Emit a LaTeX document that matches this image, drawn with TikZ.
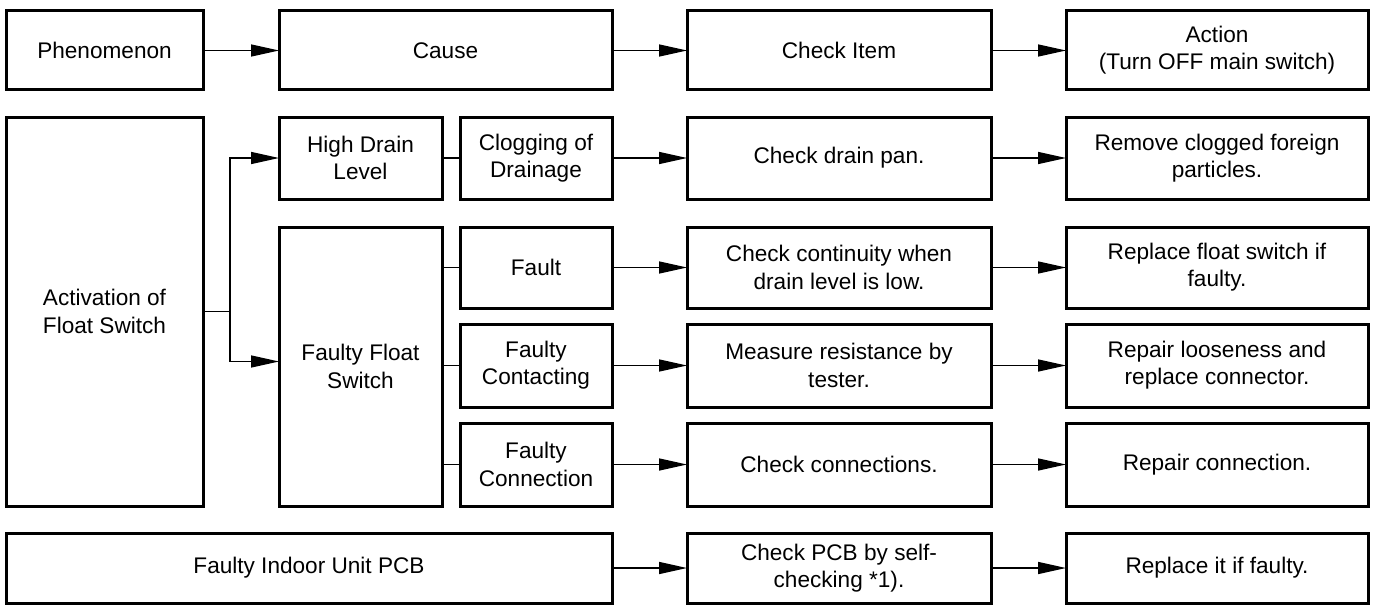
\documentclass[tikz,border=0pt]{standalone}
\usepackage{fontspec}
\setmainfont{Liberation Sans}
\usepackage{tikz}
\usetikzlibrary{arrows.meta, positioning, calc}

\begin{document}
\begin{tikzpicture}[
    node distance=13.5pt and 37.5pt,
    every node/.style={font=\fontsize{11.3}{13.6}\selectfont, align=center},
    blk/.style={draw=black, line width=1.5pt, outer sep=0pt, inner sep=2pt},
    colA/.style={blk, minimum width=98.5pt},
    colB/.style={blk, minimum width=81.5pt},
    colC/.style={blk, minimum width=76pt},
    colD/.style={blk, minimum width=152pt},
    colE/.style={blk, minimum width=151pt},
    arr/.style={-{Triangle[length=14pt, width=6pt]}, line width=0.75pt},
    lnk/.style={line width=0.6pt}
]
\useasboundingbox (0,0) rectangle (687pt,-305pt);

% Header row
\node[colA, minimum height=39.5pt, anchor=north west] (phen) at (3pt,-5.5pt) {Phenomenon};
\node[blk, minimum width=166.5pt, minimum height=39.5pt, right=38pt of phen] (cause) {Cause};
\node[colD, minimum height=39.5pt, right=of cause] (check) {Check Item};
\node[colE, minimum height=39.5pt, right=of check] (action) {Action\\(Turn OFF main switch)};

% Float switch block
\node[colA, minimum height=194.5pt, below=of phen.south west, anchor=north west] (act) {Activation of\\Float Switch};
\node[colB, minimum height=41pt, below=of cause.south west, anchor=north west] (hdl) {High Drain\\Level};
\node[colC, minimum height=41pt, right=9pt of hdl] (clog) {Clogging of\\Drainage};
\node[colD, minimum height=41pt, below=of check] (chk_pan) {Check drain pan.};
\node[colE, minimum height=41pt, below=of action] (act_clog) {Remove clogged foreign\\particles.};

\node[colB, minimum height=139.5pt, below=14pt of hdl.south west, anchor=north west] (ffs) {Faulty Float\\Switch};
\node[colC, minimum height=40.5pt, below=14pt of clog] (fault) {Fault};
\node[colC, minimum height=41.5pt, below=8pt of fault] (cont) {Faulty\\Contacting};
\node[colC, minimum height=41.5pt, below=8pt of cont] (conn) {Faulty\\Connection};

\node[colD, minimum height=40.5pt, below=14pt of chk_pan] (chk_cont) {Check continuity when\\drain level is low.};
\node[colD, minimum height=41.5pt, below=8pt of chk_cont] (chk_res) {Measure resistance by\\tester.};
\node[colD, minimum height=41.5pt, below=8pt of chk_res] (chk_conn) {Check connections.};

\node[colE, minimum height=40.5pt, below=14pt of act_clog] (act_fs) {Replace float switch if\\faulty.};
\node[colE, minimum height=41.5pt, below=8pt of act_fs] (act_loose) {Repair looseness and\\replace connector.};
\node[colE, minimum height=41.5pt, below=8pt of act_loose] (act_conn) {Repair connection.};

% PCB row
\node[blk, minimum width=303pt, minimum height=35pt, below=of act.south west, anchor=north west] (pcb) {Faulty Indoor Unit PCB};
\node[colD, minimum height=35pt, below=of chk_conn] (chk_pcb) {Check PCB by self-\\checking *1).};
\node[colE, minimum height=35pt, below=of act_conn] (act_pcb) {Replace it if faulty.};

% Connectors
\draw[arr] (phen) -- (cause);
\draw[arr] (cause) -- (check);
\draw[arr] (check) -- (action);

\draw[lnk] (act.east) -- ++(13.5pt,0) coordinate (split);
\draw[arr] (split) |- (hdl.west);
\draw[arr] (split) |- ([yshift=2.5pt]ffs.west);

\draw[lnk] (hdl) -- (clog);
\foreach \n in {fault, cont, conn}
    \draw[lnk] (ffs.east |- \n.west) -- (\n.west);

\draw[arr] (clog) -- (chk_pan);
\draw[arr] (fault) -- (chk_cont);
\draw[arr] (cont) -- (chk_res);
\draw[arr] (conn) -- (chk_conn);
\draw[arr] (pcb) -- (chk_pcb);

\draw[arr] (chk_pan) -- (act_clog);
\draw[arr] (chk_cont) -- (act_fs);
\draw[arr] (chk_res) -- (act_loose);
\draw[arr] (chk_conn) -- (act_conn);
\draw[arr] (chk_pcb) -- (act_pcb);

\end{tikzpicture}
\end{document}
